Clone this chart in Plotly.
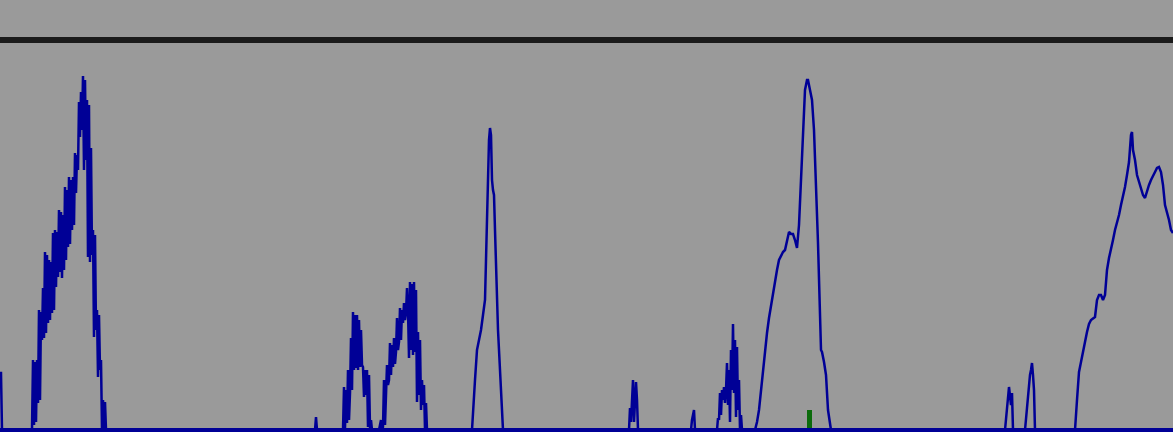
import plotly.graph_objects as go

# Sample positions and signal level (counts above baseline)
t = [
    0, 1, 2,
    32, 33, 34, 35, 36, 37, 38, 39, 40, 41,
    42, 43, 44, 45, 46, 47, 48, 49, 50, 51,
    52, 53, 54, 55, 56, 57, 58, 59, 60, 61,
    62, 63, 64, 65, 66, 67, 68, 69, 70, 71,
    72, 73, 74, 75, 76, 77, 78, 79, 80, 81,
    82, 83, 84, 85, 86, 87, 88, 89, 90, 91,
    92, 93, 94, 95, 96, 97, 98, 99, 100, 101,
    102, 103, 104, 105, 106,
    315, 316, 317,
    343, 344, 345, 346, 347, 348, 349, 350, 351, 352, 353, 354, 355, 356, 357,
    358, 359, 360, 361, 362, 363, 364, 365, 366, 367, 368, 369, 370, 371, 372,
    379, 381, 382, 383, 384, 385, 386, 387, 388, 389, 390, 391, 392, 393, 394,
    395, 396, 397, 398, 399, 400, 401, 402, 403, 404, 405, 406, 407, 408, 409,
    410, 411, 412, 413, 414, 415, 416, 417, 418, 419, 420, 421, 422, 423, 424,
    425, 426, 427,
    472, 473, 475, 477, 479, 481, 483, 485, 486, 487, 488, 489, 490, 491, 492,
    493, 494, 495, 496, 497, 498, 499, 500, 501, 502, 503,
    629, 630, 631, 632, 633, 634, 636, 637, 638,
    691, 692, 694, 695,
    717, 718, 719, 720, 721, 722, 723, 724, 725, 726, 727, 728, 729, 730, 731,
    732, 733, 734, 735, 736, 737, 738, 739, 740, 741, 742,
    755, 757, 759, 761, 763, 765, 767, 769, 771, 773, 775, 777, 779, 781, 783,
    785, 787, 789, 791, 793, 795, 797, 799, 801, 803, 805, 807, 808, 810, 812,
    814, 816, 818, 821, 822, 824, 826, 828, 830, 831,
    1005, 1007, 1009, 1011, 1012, 1013,
    1025, 1027, 1029, 1030, 1031, 1032, 1033, 1034, 1035,
    1075, 1077, 1079, 1081, 1083, 1085, 1087, 1089, 1091, 1093, 1095, 1097, 1099,
    1101, 1103, 1105, 1107, 1109, 1111, 1113, 1115, 1117, 1119, 1121, 1123, 1125,
    1127, 1129, 1131, 1132, 1133, 1135, 1137, 1139, 1141, 1143, 1145, 1147, 1149,
    1151, 1153, 1155, 1157, 1159, 1161, 1163, 1165, 1167, 1169, 1171, 1173,
]

level = [
    57, 57, 0,
    0, 70, 5, 68, 8, 70, 27, 120, 30, 118,
    90, 142, 92, 178, 97, 175, 107, 170, 110, 168,
    117, 197, 120, 200, 143, 198, 153, 220, 158, 218,
    152, 215, 160, 243, 170, 240, 183, 253, 186, 250,
    200, 253, 205, 277, 237, 275, 260, 328, 293, 338,
    300, 354, 260, 350, 270, 330, 173, 325, 168, 282,
    175, 200, 93, 195, 100, 120, 53, 115, 60, 70,
    0, 30, 0, 28, 0,
    0, 13, 0,
    0, 43, 2, 40, 7, 60, 10, 37, 92, 40, 118, 60, 115, 62, 115,
    60, 110, 63, 100, 65, 63, 33, 60, 35, 60, 3, 55, 2, 10, 0,
    0, 10, 0, 3, 50, 5, 43, 65, 45, 50, 87, 55, 85, 63, 92,
    66, 78, 112, 80, 88, 122, 90, 120, 107, 127, 110, 117, 142, 120, 72,
    148, 80, 146, 75, 148, 78, 140, 28, 98, 35, 90, 20, 50, 25, 45,
    0, 27, 0,
    0, 20, 50, 80, 90, 100, 115, 130, 170, 200, 250, 290, 302, 295, 250,
    240, 235, 200, 160, 130, 100, 80, 60, 40, 20, 0,
    0, 22, 8, 25, 50, 8, 48, 30, 0,
    0, 10, 20, 0,
    0, 12, 10, 37, 15, 40, 30, 43, 27, 40, 67, 25, 60, 8, 80,
    40, 106, 37, 90, 13, 83, 20, 50, 0, 15, 0,
    0, 8, 20, 40, 60, 80, 97, 112, 125, 135, 148, 160, 170, 175, 178,
    180, 188, 198, 196, 196, 190, 182, 205, 250, 310, 340, 350, 350, 340, 330,
    300, 250, 187, 80, 78, 68, 55, 20, 5, 0,
    0, 20, 43, 25, 37, 0,
    0, 22, 50, 55, 60, 67, 55, 40, 0,
    0, 30, 58, 68, 80, 88, 98, 106, 110, 112, 113, 130, 135,
    135, 130, 135, 160, 172, 180, 190, 200, 207, 215, 225, 233, 243,
    255, 268, 295, 298, 280, 270, 255, 248, 243, 235, 232, 240, 245,
    250, 255, 258, 262, 263, 258, 245, 225, 218, 210, 200, 197,
]

# Single marker event
event_t = [809]
event_level = [20]

threshold = 390

BG = "#9a9a9a"
LINE_BLUE = "#000096"

fig = go.Figure()

fig.add_trace(go.Bar(
    x=event_t, y=event_level, width=5,
    marker=dict(color="#0b6b0b", line=dict(width=0)),
    showlegend=False, hoverinfo="skip",
))

fig.add_trace(go.Scatter(
    x=t, y=level, mode="lines",
    line=dict(color=LINE_BLUE, width=2.5),
    showlegend=False,
))

# threshold level
fig.add_shape(type="line", xref="paper", x0=0, x1=1, yref="y",
              y0=threshold, y1=threshold,
              line=dict(color="#1b1b1b", width=6), layer="above")
# baseline
fig.add_shape(type="line", xref="paper", x0=0, x1=1, yref="y",
              y0=0, y1=0,
              line=dict(color=LINE_BLUE, width=4), layer="above")

fig.update_layout(
    width=1173, height=432,
    margin=dict(l=0, r=0, t=0, b=0),
    paper_bgcolor=BG, plot_bgcolor=BG,
    xaxis=dict(range=[0, 1173], visible=False, fixedrange=True),
    yaxis=dict(range=[-2, 430], visible=False, fixedrange=True),
    bargap=0,
)

fig.write_html("out.html", config={"displayModeBar": False})
